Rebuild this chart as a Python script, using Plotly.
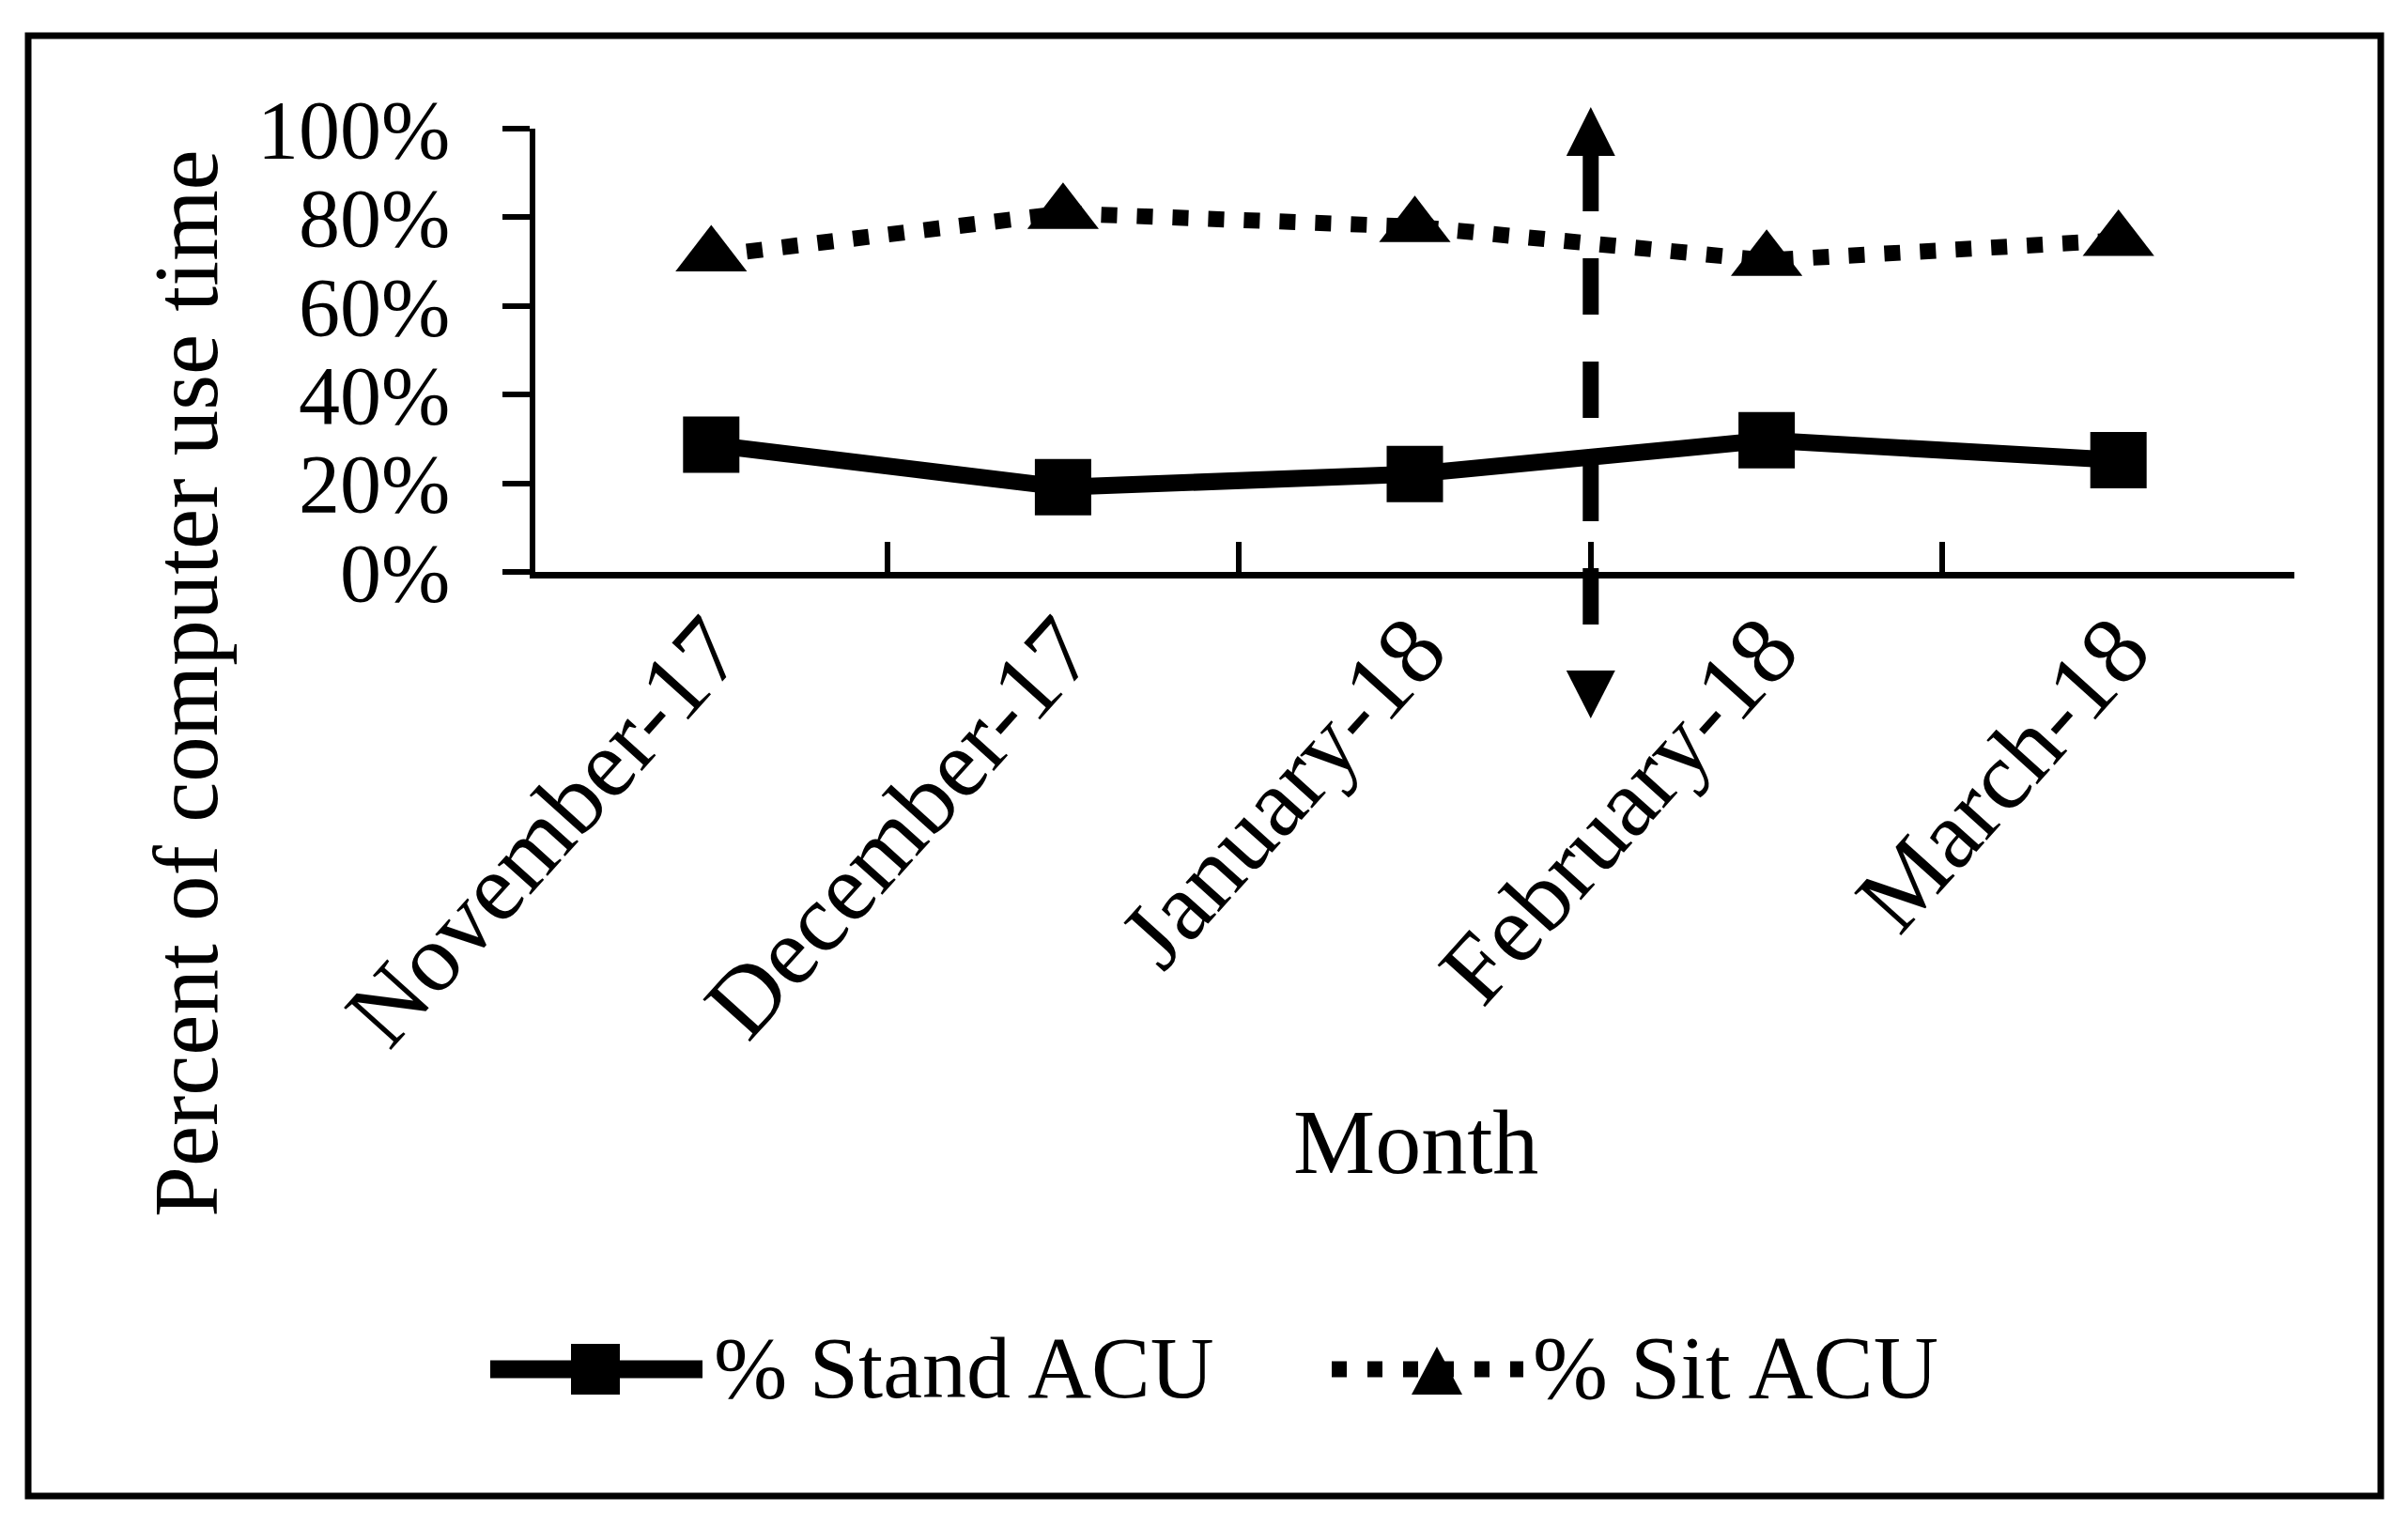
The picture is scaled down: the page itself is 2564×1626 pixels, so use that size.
import plotly.graph_objects as go

# ---------------- data ----------------
months = ["November-17", "December-17", "January-18", "February-18", "March-18"]
stand_acu = [0.287, 0.191, 0.221, 0.297, 0.252]
sit_acu = [0.713, 0.809, 0.779, 0.703, 0.748]
y_tick_values = [0, 0.2, 0.4, 0.6, 0.8, 1.0]
y_tick_labels = ["0%", "20%", "40%", "60%", "80%", "100%"]
series_names = ["% Stand ACU", "% Sit ACU"]
intervention_after = "January-18"   # dashed arrow between January-18 and February-18

# ---------------- layout geometry (target pixels on the 2564x1626 page) ----------------
OFF = 8                      # default body margin of the page
FW, FH = 2564 - 2 * OFF, 1626 - 2 * OFF
L, R, T, B = 570, 2443, 137, 609
FONT = "Liberation Serif"


def px(x):
    return (x - L) / (R - L)


def py(y):
    return (B - y) / (B - T)


fig = go.Figure()
fig.add_trace(go.Scatter(
    x=months, y=stand_acu, mode="lines+markers", name=series_names[0],
    line=dict(color="black", width=18),
    marker=dict(symbol="square", size=60, color="black"),
    cliponaxis=False, showlegend=False))
fig.add_trace(go.Scatter(
    x=months, y=sit_acu, mode="lines+markers", name=series_names[1],
    line=dict(color="black", width=17, dash="17px,21px"),
    marker=dict(symbol="triangle-up", size=66, color="black"),
    cliponaxis=False, showlegend=False))

shapes = []
# outer border
shapes.append(dict(type="rect", xref="paper", yref="paper",
                   x0=px(30), x1=px(2535), y0=py(38), y1=py(1593),
                   line=dict(color="black", width=7), fillcolor="rgba(0,0,0,0)"))

# intervention arrow
ax_idx = months.index(intervention_after) + 0.5
ax_paper = (ax_idx + 0.5) / len(months)
hw = 26 / (R - L)
shapes.append(dict(type="line", xref="x", yref="paper", x0=ax_idx, x1=ax_idx,
                   y0=py(165), y1=py(714), line=dict(color="black", width=17, dash="60px,50px")))
shapes.append(dict(type="path", xref="paper", yref="paper",
                   path=f"M{ax_paper-hw},{py(166)} L{ax_paper+hw},{py(166)} L{ax_paper},{py(114)} Z",
                   fillcolor="black", line=dict(width=0)))
shapes.append(dict(type="path", xref="paper", yref="paper",
                   path=f"M{ax_paper-hw},{py(714)} L{ax_paper+hw},{py(714)} L{ax_paper},{py(765)} Z",
                   fillcolor="black", line=dict(width=0)))

# custom legend keys
LEG_Y = 1458
shapes.append(dict(type="line", xref="paper", yref="paper", x0=px(522), x1=px(748),
                   y0=py(LEG_Y), y1=py(LEG_Y), line=dict(color="black", width=19)))
shapes.append(dict(type="rect", xref="paper", yref="paper", x0=px(608), x1=px(660),
                   y0=py(LEG_Y - 27), y1=py(LEG_Y + 27), fillcolor="black", line=dict(width=0)))
shapes.append(dict(type="line", xref="paper", yref="paper", x0=px(1418), x1=px(1622),
                   y0=py(LEG_Y), y1=py(LEG_Y), line=dict(color="black", width=17, dash="16px,22px")))
tw = 27 / (R - L)
tc = px(1530)
shapes.append(dict(type="path", xref="paper", yref="paper",
                   path=f"M{tc-tw},{py(LEG_Y+27)} L{tc+tw},{py(LEG_Y+27)} L{tc},{py(LEG_Y-24)} Z",
                   fillcolor="black", line=dict(width=0)))

annotations = [
    dict(text="Percent of computer use time", xref="paper", yref="paper",
         x=px(198), y=py(728), textangle=-90, showarrow=False,
         xanchor="center", yanchor="middle", font=dict(family=FONT, size=97, color="black")),
    dict(text="Month", xref="paper", yref="paper", x=px(1507), y=py(1216),
         showarrow=False, xanchor="center", yanchor="middle",
         font=dict(family=FONT, size=98, color="black")),
    dict(text=series_names[0], xref="paper", yref="paper", x=px(758), y=py(1456),
         showarrow=False, xanchor="left", yanchor="middle",
         font=dict(family=FONT, size=94, color="black")),
    dict(text=series_names[1], xref="paper", yref="paper", x=px(1630), y=py(1456),
         showarrow=False, xanchor="left", yanchor="middle",
         font=dict(family=FONT, size=96, color="black")),
]

fig.update_layout(
    width=FW, height=FH,
    margin=dict(l=L - OFF, r=FW - (R - OFF), t=T - OFF, b=FH - (B - OFF), pad=0),
    paper_bgcolor="white", plot_bgcolor="white",
    showlegend=False,
    shapes=shapes, annotations=annotations,
    font=dict(family=FONT, color="black"),
    xaxis=dict(
        type="category", categoryorder="array", categoryarray=months,
        range=[-0.5, len(months) - 0.5],
        showline=True, linecolor="black", linewidth=7, showgrid=False, zeroline=False,
        ticks="inside", ticklen=32, tickwidth=6, tickcolor="black", tickson="boundaries",
        tickangle=-48, tickfont=dict(family=FONT, size=103, color="black"),
        ticklabelstandoff=-26, ticklabelshift=0,
    ),
    yaxis=dict(
        range=[0, 1], tickvals=y_tick_values, ticktext=y_tick_labels,
        showline=True, linecolor="black", linewidth=6, showgrid=False, zeroline=False,
        ticks="outside", ticklen=29, tickwidth=6, tickcolor="black",
        tickfont=dict(family=FONT, size=88, color="black"),
        ticklabelstandoff=38,
    ),
)

fig.write_html("out.html")
